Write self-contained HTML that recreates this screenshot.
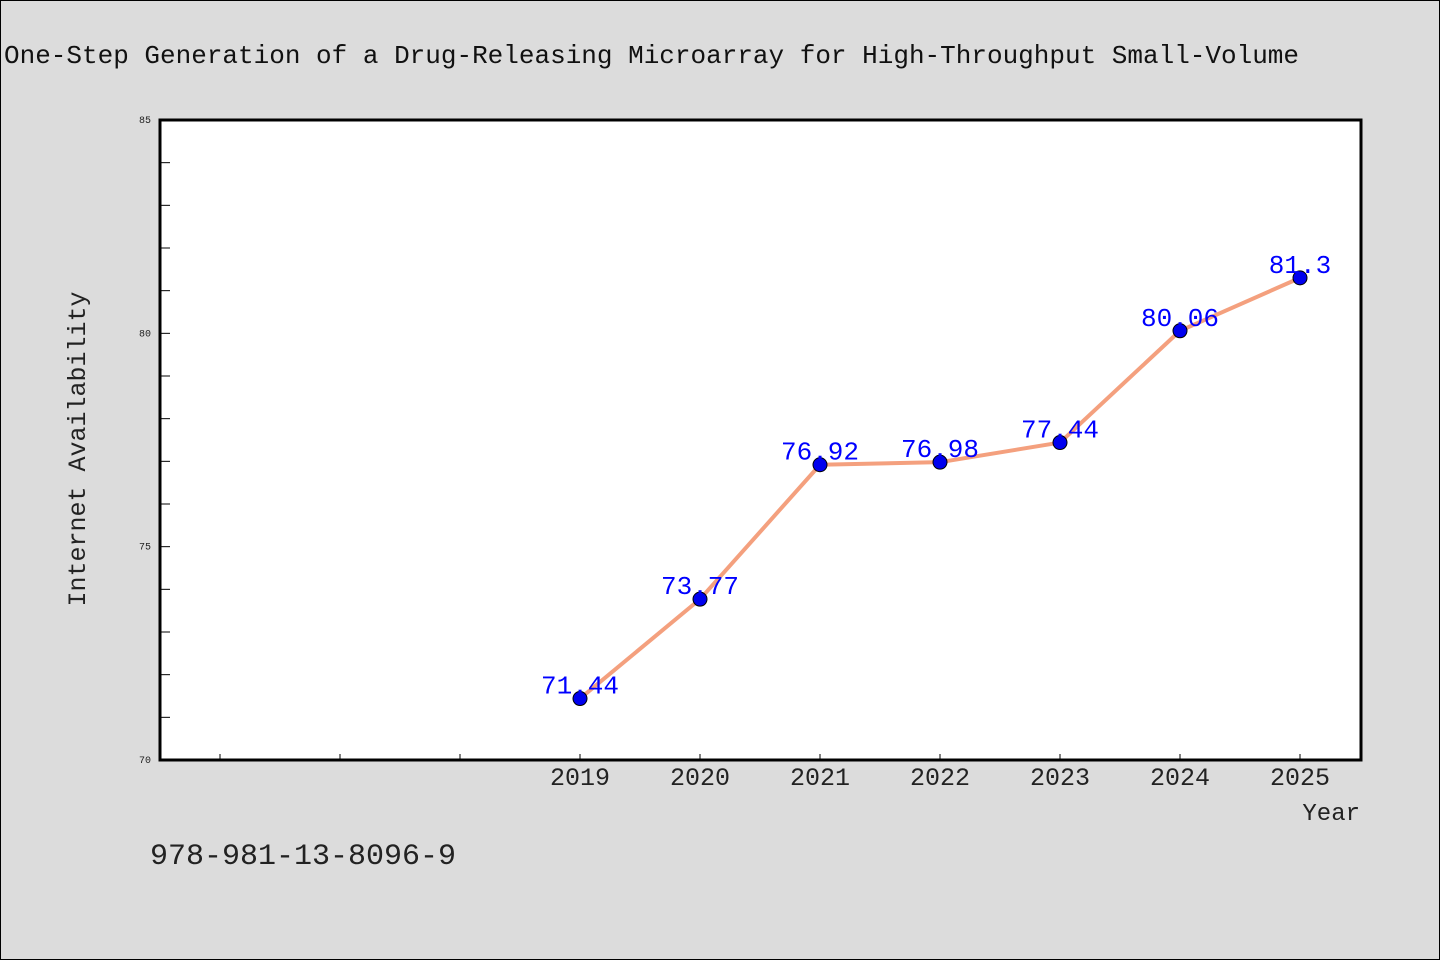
<!DOCTYPE html>
<html><head><meta charset="utf-8"><style>
html,body{margin:0;padding:0;background:#dcdcdc;}
svg{display:block;font-family:"Liberation Mono","WenQuanYi Zen Hei",monospace;}
</style></head><body>
<svg width="1440" height="960" viewBox="0 0 1440 960">
<rect x="0.5" y="0.5" width="1439" height="959" fill="#dcdcdc" stroke="#000"/>
<text x="4" y="63" font-size="26" fill="#111">One-Step Generation of a Drug-Releasing Microarray for High-Throughput Small-Volume</text>
<rect x="160" y="120" width="1201" height="640" fill="#fff"/>
<g id="axes"></g>
<g id="series"></g>
<rect x="160" y="120" width="1201" height="640" fill="none" stroke="#000" stroke-width="3"/>
<text transform="translate(85,449) rotate(-90)" text-anchor="middle" font-size="25" fill="#222">Internet Availability</text>
<text x="1360" y="820" text-anchor="end" font-size="24" fill="#222">Year</text>
<text x="150" y="864" font-size="30" fill="#222">978-981-13-8096-9</text>
</svg>
<script>
const categories=["","","","2019","2020","2021","2022","2023","2024","2025"];
const values=[null,null,null,71.44,73.77,76.92,76.98,77.44,80.06,81.3];
const valueLabels=["","","","71.44","73.77","76.92","76.98","77.44","80.06","81.3"];
const yTickLabels=[70,75,80,85];
const yMin=70,yMax=85;
const NS="http://www.w3.org/2000/svg";
const x=i=>220+i*120;
const y=v=>760-(v-yMin)/(yMax-yMin)*640;
function mk(tag,attrs,parent){const e=document.createElementNS(NS,tag);for(const k in attrs)e.setAttribute(k,attrs[k]);parent.appendChild(e);return e;}
const axes=document.getElementById('axes'),ser=document.getElementById('series');
for(let v=yMin+1;v<yMax;v++){
  const t=mk('line',{x1:160,x2:170,y1:y(v),y2:y(v),stroke:'#000','stroke-width':1},axes);
  
  
}
yTickLabels.forEach(v=>{
  const t=mk('text',{x:151,y:y(v)+3,'text-anchor':'end','font-size':10,fill:'#222'},axes);
  t.textContent=v;
  
  
});
categories.forEach((c,i)=>{
  const t=mk('line',{x1:x(i),x2:x(i),y1:760,y2:754,stroke:'#000','stroke-width':1},axes);
  
  
  if(c){
    const l=mk('text',{x:x(i),y:785,'text-anchor':'middle','font-size':25,fill:'#222'},axes);
    l.textContent=c;
    
    
  }
});
let pts=[];
values.forEach((v,i)=>{if(v!==null)pts.push(x(i)+','+y(v));});
const line=mk('polyline',{points:pts.join(' '),fill:'none',stroke:'#f4a07e','stroke-width':4,'stroke-linejoin':'round'},ser);


values.forEach((v,i)=>{
  if(v===null)return;
  const c=mk('circle',{cx:x(i),cy:y(v),r:7,fill:'#0000ee',stroke:'#000','stroke-width':1},ser);
  
  
  const t=mk('text',{x:x(i),y:y(v)-5,'text-anchor':'middle','font-size':26,fill:'#0000ff'},ser);
  t.textContent=valueLabels[i];
  
  
});
</script>
</body></html>
